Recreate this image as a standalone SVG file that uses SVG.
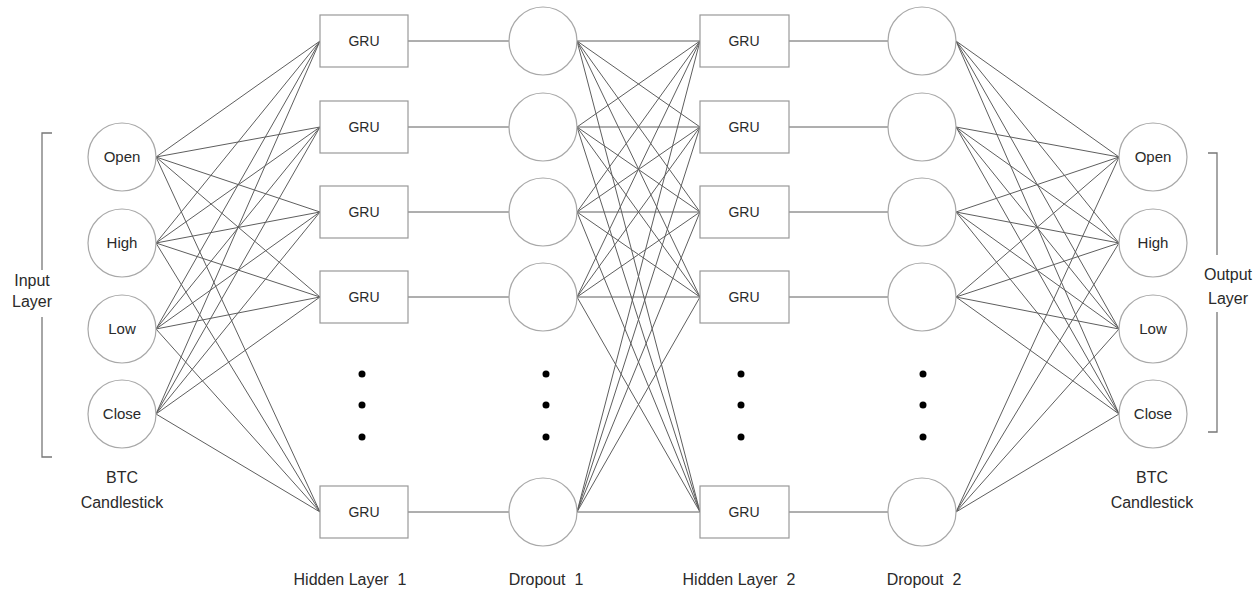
<svg xmlns="http://www.w3.org/2000/svg" width="1260" height="590" viewBox="0 0 1260 590">
<style>
.bg{fill:#ffffff}
.c{stroke:#5e5e5e;stroke-width:1;fill:none}
.node{fill:#ffffff;stroke:#a8a8a8;stroke-width:1.2}
.box{fill:#ffffff;stroke:#999999;stroke-width:1.2}
.t{font-family:"Liberation Sans",Arial,sans-serif;fill:#2a2a2a;text-anchor:middle}
.nl{font-size:15px}
.gl{font-size:14px}
.ol{font-size:16px}
.br{stroke:#777777;stroke-width:1.3;fill:none}
.dot{fill:#000000}
</style>
<rect class="bg" x="0" y="0" width="1260" height="590"/>
<g id="connectors">
<line class="c" x1="156" y1="157" x2="320" y2="41"/><line class="c" x1="156" y1="157" x2="320" y2="127"/><line class="c" x1="156" y1="157" x2="320" y2="212"/><line class="c" x1="156" y1="157" x2="320" y2="297"/><line class="c" x1="156" y1="157" x2="320" y2="512"/>
<line class="c" x1="156" y1="243" x2="320" y2="41"/><line class="c" x1="156" y1="243" x2="320" y2="127"/><line class="c" x1="156" y1="243" x2="320" y2="212"/><line class="c" x1="156" y1="243" x2="320" y2="297"/><line class="c" x1="156" y1="243" x2="320" y2="512"/>
<line class="c" x1="156" y1="329" x2="320" y2="41"/><line class="c" x1="156" y1="329" x2="320" y2="127"/><line class="c" x1="156" y1="329" x2="320" y2="212"/><line class="c" x1="156" y1="329" x2="320" y2="297"/><line class="c" x1="156" y1="329" x2="320" y2="512"/>
<line class="c" x1="156" y1="414" x2="320" y2="41"/><line class="c" x1="156" y1="414" x2="320" y2="127"/><line class="c" x1="156" y1="414" x2="320" y2="212"/><line class="c" x1="156" y1="414" x2="320" y2="297"/><line class="c" x1="156" y1="414" x2="320" y2="512"/>
<line class="c" x1="408" y1="41" x2="509" y2="41"/><line class="c" x1="408" y1="127" x2="509" y2="127"/><line class="c" x1="408" y1="212" x2="509" y2="212"/><line class="c" x1="408" y1="297" x2="509" y2="297"/><line class="c" x1="408" y1="512" x2="509" y2="512"/>
<line class="c" x1="577" y1="41" x2="700" y2="41"/><line class="c" x1="577" y1="41" x2="700" y2="127"/><line class="c" x1="577" y1="41" x2="700" y2="212"/><line class="c" x1="577" y1="41" x2="700" y2="297"/><line class="c" x1="577" y1="41" x2="700" y2="512"/>
<line class="c" x1="577" y1="127" x2="700" y2="41"/><line class="c" x1="577" y1="127" x2="700" y2="127"/><line class="c" x1="577" y1="127" x2="700" y2="212"/><line class="c" x1="577" y1="127" x2="700" y2="297"/><line class="c" x1="577" y1="127" x2="700" y2="512"/>
<line class="c" x1="577" y1="212" x2="700" y2="41"/><line class="c" x1="577" y1="212" x2="700" y2="127"/><line class="c" x1="577" y1="212" x2="700" y2="212"/><line class="c" x1="577" y1="212" x2="700" y2="297"/><line class="c" x1="577" y1="212" x2="700" y2="512"/>
<line class="c" x1="577" y1="297" x2="700" y2="41"/><line class="c" x1="577" y1="297" x2="700" y2="127"/><line class="c" x1="577" y1="297" x2="700" y2="212"/><line class="c" x1="577" y1="297" x2="700" y2="297"/><line class="c" x1="577" y1="297" x2="700" y2="512"/>
<line class="c" x1="577" y1="512" x2="700" y2="41"/><line class="c" x1="577" y1="512" x2="700" y2="127"/><line class="c" x1="577" y1="512" x2="700" y2="212"/><line class="c" x1="577" y1="512" x2="700" y2="297"/><line class="c" x1="577" y1="512" x2="700" y2="512"/>
<line class="c" x1="789" y1="41" x2="888" y2="41"/><line class="c" x1="789" y1="127" x2="888" y2="127"/><line class="c" x1="789" y1="212" x2="888" y2="212"/><line class="c" x1="789" y1="297" x2="888" y2="297"/><line class="c" x1="789" y1="512" x2="888" y2="512"/>
<line class="c" x1="956" y1="41" x2="1119" y2="157"/><line class="c" x1="956" y1="41" x2="1119" y2="243"/><line class="c" x1="956" y1="41" x2="1119" y2="329"/><line class="c" x1="956" y1="41" x2="1119" y2="414"/>
<line class="c" x1="956" y1="127" x2="1119" y2="157"/><line class="c" x1="956" y1="127" x2="1119" y2="243"/><line class="c" x1="956" y1="127" x2="1119" y2="329"/><line class="c" x1="956" y1="127" x2="1119" y2="414"/>
<line class="c" x1="956" y1="212" x2="1119" y2="157"/><line class="c" x1="956" y1="212" x2="1119" y2="243"/><line class="c" x1="956" y1="212" x2="1119" y2="329"/><line class="c" x1="956" y1="212" x2="1119" y2="414"/>
<line class="c" x1="956" y1="297" x2="1119" y2="157"/><line class="c" x1="956" y1="297" x2="1119" y2="243"/><line class="c" x1="956" y1="297" x2="1119" y2="329"/><line class="c" x1="956" y1="297" x2="1119" y2="414"/>
<line class="c" x1="956" y1="512" x2="1119" y2="157"/><line class="c" x1="956" y1="512" x2="1119" y2="243"/><line class="c" x1="956" y1="512" x2="1119" y2="329"/><line class="c" x1="956" y1="512" x2="1119" y2="414"/>
</g>
<g id="input-layer">
<path class="br" d="M52,133 H42 V270 M42,317 V457 H52"/>
<text class="t ol" x="32" y="286">Input</text>
<text class="t ol" x="32" y="307">Layer</text>
<g id="in-open"><circle class="node" cx="122" cy="157" r="34"/><text class="t nl" x="122" y="162">Open</text></g>
<g id="in-high"><circle class="node" cx="122" cy="243" r="34"/><text class="t nl" x="122" y="248">High</text></g>
<g id="in-low"><circle class="node" cx="122" cy="329" r="34"/><text class="t nl" x="122" y="334">Low</text></g>
<g id="in-close"><circle class="node" cx="122" cy="414" r="34"/><text class="t nl" x="122" y="419">Close</text></g>
<text class="t ol" x="122" y="483">BTC</text>
<text class="t ol" x="122" y="508">Candlestick</text>
</g>
<g id="hidden-layer-1">
<g id="h1-1"><rect class="box" x="320" y="15" width="88" height="52"/><text class="t gl" x="364" y="46">GRU</text></g>
<g id="h1-2"><rect class="box" x="320" y="101" width="88" height="52"/><text class="t gl" x="364" y="132">GRU</text></g>
<g id="h1-3"><rect class="box" x="320" y="186" width="88" height="52"/><text class="t gl" x="364" y="217">GRU</text></g>
<g id="h1-4"><rect class="box" x="320" y="271" width="88" height="52"/><text class="t gl" x="364" y="302">GRU</text></g>
<g id="h1-5"><rect class="box" x="320" y="486" width="88" height="52"/><text class="t gl" x="364" y="517">GRU</text></g>
<circle class="dot" cx="362" cy="374" r="3.5"/><circle class="dot" cx="362" cy="405" r="3.5"/><circle class="dot" cx="362" cy="437" r="3.5"/>
<text class="t ol" x="350" y="585" xml:space="preserve">Hidden Layer  1</text>
</g>
<g id="dropout-1">
<g id="d1-1"><circle class="node" cx="543" cy="41" r="34"/></g>
<g id="d1-2"><circle class="node" cx="543" cy="127" r="34"/></g>
<g id="d1-3"><circle class="node" cx="543" cy="212" r="34"/></g>
<g id="d1-4"><circle class="node" cx="543" cy="297" r="34"/></g>
<g id="d1-5"><circle class="node" cx="543" cy="512" r="34"/></g>
<circle class="dot" cx="546" cy="374" r="3.5"/><circle class="dot" cx="546" cy="405" r="3.5"/><circle class="dot" cx="546" cy="437" r="3.5"/>
<text class="t ol" x="546" y="585" xml:space="preserve">Dropout  1</text>
</g>
<g id="hidden-layer-2">
<g id="h2-1"><rect class="box" x="700" y="15" width="89" height="52"/><text class="t gl" x="744" y="46">GRU</text></g>
<g id="h2-2"><rect class="box" x="700" y="101" width="89" height="52"/><text class="t gl" x="744" y="132">GRU</text></g>
<g id="h2-3"><rect class="box" x="700" y="186" width="89" height="52"/><text class="t gl" x="744" y="217">GRU</text></g>
<g id="h2-4"><rect class="box" x="700" y="271" width="89" height="52"/><text class="t gl" x="744" y="302">GRU</text></g>
<g id="h2-5"><rect class="box" x="700" y="486" width="89" height="52"/><text class="t gl" x="744" y="517">GRU</text></g>
<circle class="dot" cx="741" cy="374" r="3.5"/><circle class="dot" cx="741" cy="405" r="3.5"/><circle class="dot" cx="741" cy="437" r="3.5"/>
<text class="t ol" x="739" y="585" xml:space="preserve">Hidden Layer  2</text>
</g>
<g id="dropout-2">
<g id="d2-1"><circle class="node" cx="922" cy="41" r="34"/></g>
<g id="d2-2"><circle class="node" cx="922" cy="127" r="34"/></g>
<g id="d2-3"><circle class="node" cx="922" cy="212" r="34"/></g>
<g id="d2-4"><circle class="node" cx="922" cy="297" r="34"/></g>
<g id="d2-5"><circle class="node" cx="922" cy="512" r="34"/></g>
<circle class="dot" cx="923" cy="374" r="3.5"/><circle class="dot" cx="923" cy="405" r="3.5"/><circle class="dot" cx="923" cy="437" r="3.5"/>
<text class="t ol" x="924" y="585" xml:space="preserve">Dropout  2</text>
</g>
<g id="output-layer">
<g id="out-open"><circle class="node" cx="1153" cy="157" r="34"/><text class="t nl" x="1153" y="162">Open</text></g>
<g id="out-high"><circle class="node" cx="1153" cy="243" r="34"/><text class="t nl" x="1153" y="248">High</text></g>
<g id="out-low"><circle class="node" cx="1153" cy="329" r="34"/><text class="t nl" x="1153" y="334">Low</text></g>
<g id="out-close"><circle class="node" cx="1153" cy="414" r="34"/><text class="t nl" x="1153" y="419">Close</text></g>
<path class="br" d="M1208,153 H1217 V255 M1217,312 V432 H1208"/>
<text class="t ol" x="1228" y="280">Output</text>
<text class="t ol" x="1228" y="304">Layer</text>
<text class="t ol" x="1152" y="483">BTC</text>
<text class="t ol" x="1152" y="508">Candlestick</text>
</g>
</svg>
